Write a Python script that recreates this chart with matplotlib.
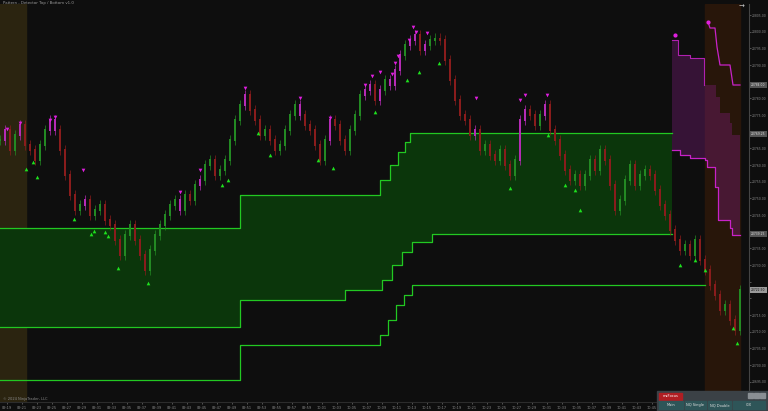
import matplotlib.pyplot as plt
import numpy as np
from matplotlib.ticker import MultipleLocator, FuncFormatter
from matplotlib.patches import Rectangle
from matplotlib.transforms import blended_transform_factory

# Schlusskurse, ein Wert pro Kerze (Preis)
closes = [20767.5, 20770.5, 20764.5, 20769, 20772, 20766, 20764.5, 20761.5, 20766, 20770.5,
          20773.5, 20770.5, 20764.5, 20757, 20751, 20746.5, 20748, 20749.5, 20745, 20746.5,
          20748, 20743.5, 20742, 20737.5, 20733, 20739, 20742, 20737.5, 20733, 20728.5,
          20734.5, 20739, 20742, 20745, 20748, 20749.5, 20746.5, 20751, 20749.5, 20754,
          20755.5, 20760, 20761.5, 20757, 20758.5, 20761.5, 20767.5, 20773.5, 20778, 20781,
          20776.5, 20773.5, 20769, 20770.5, 20767.5, 20764.5, 20766, 20770.5, 20775, 20778,
          20775, 20772, 20770.5, 20766, 20761.5, 20767.5, 20773.5, 20772, 20767.5, 20764.5,
          20770.5, 20775, 20781, 20782.5, 20784, 20779.5, 20782.5, 20785.5, 20784, 20788.5,
          20793, 20796, 20797.5, 20799, 20794.5, 20796, 20797.5, 20798, 20797.5, 20791.5,
          20785.5, 20779.5, 20775, 20773.5, 20769, 20770.5, 20764.5, 20766, 20763, 20761.5,
          20764.5, 20760, 20757, 20761.5, 20773.5, 20776.5, 20775, 20772, 20775, 20778,
          20770.5, 20767.5, 20763, 20758.5, 20755.5, 20757, 20754, 20757, 20761.5, 20758.5,
          20764.5, 20761.5, 20754, 20746.5, 20749.5, 20755.5, 20760, 20754, 20757, 20758.5,
          20757, 20752.5, 20748, 20745, 20740.5, 20737.5, 20734.5, 20736, 20733, 20737.5,
          20731.5, 20728.5, 20724, 20721, 20716.5, 20718, 20713.5, 20710.5, 20722.5]

# Hochpunkte (Top) und Tiefpunkte (Bottom): Kerzenposition und Preis
top_x = [1.4, 4, 10, 11, 16.6, 36, 40, 49, 60, 66, 73, 74.4, 76, 78.4, 79, 79.6, 81.8, 82.6,
         83.2, 85.4, 95.2, 104, 105, 109.4]
top_p = [20770.8, 20772.6, 20773.5, 20774.4, 20758.5, 20752, 20758.5, 20783.1, 20780.1, 20774,
         20784, 20786.7, 20788, 20787.3, 20790.6, 20792.7, 20797.5, 20801.4, 20799.9, 20799.6,
         20780.1, 20779.5, 20781, 20781]
bot_x = [5.2, 6.6, 7.4, 14.8, 18.2, 18.8, 21, 21.6, 23.6, 29.6, 44.4, 45.6, 51.6, 54, 63.6,
         66.6, 75, 81.4, 83.8, 87.8, 102, 109.6, 113, 115, 116, 136, 139, 141, 146.6, 147.4]
bot_p = [20758.8, 20760.9, 20756.4, 20743.8, 20739.3, 20740.2, 20739.9, 20738.7, 20729.1, 20724.6,
         20754, 20755.5, 20769.6, 20763, 20761.5, 20759.1, 20775.9, 20785.5, 20787.9, 20790.6,
         20753.1, 20769, 20754, 20752.5, 20746.5, 20730, 20731.5, 20728.5, 20711.1, 20706.6]

# gruene Zone (Stufenlinien)
zone_top_x = [0, 48, 76, 78, 79.6, 81, 82, 134.4]
zone_top_p = [20741.1, 20751, 20755.5, 20760, 20763.9, 20766.9, 20769.6, 20769.6]
zone_bot_x = [0, 48, 69, 76.4, 78.4, 80.4, 82.4, 86.4, 134.4]
zone_bot_p = [20711.4, 20719.5, 20722.5, 20725.5, 20730, 20733.9, 20736.9, 20739.3, 20739.3]
low_line_x = [0, 48, 76, 77.6, 79.2, 80.8, 82.4, 88, 141]
low_line_p = [20695.5, 20706, 20709, 20713.5, 20718, 20721, 20724, 20724, 20724]

# magenta Zone
mag_top_x = [134.4, 135.6, 138, 140.8, 143.2, 144, 146, 146.4, 148]
mag_top_p = [20797.5, 20793, 20792.1, 20784, 20780.4, 20775.6, 20772.6, 20769, 20769]
mag_bot_x = [134.4, 136, 138, 141, 141.4, 143, 143.6, 146, 146.4, 148]
mag_bot_p = [20764.5, 20763, 20762.1, 20761.5, 20759.4, 20753.4, 20743.5, 20741.1, 20739, 20739]
mag_up_x = [141.6, 142, 143, 143.4, 144, 146, 146.6, 148]
mag_up_p = [20802.9, 20801.1, 20801.1, 20795.4, 20790, 20790, 20784, 20784]

time_labels = ["09:19", "09:21", "09:23", "09:25", "09:27", "09:29", "09:31", "09:33", "09:35",
               "09:37", "09:39", "09:41", "09:43", "09:45", "09:47", "09:49", "09:51", "09:53",
               "09:55", "09:57", "09:59", "10:01", "10:03", "10:05", "10:07", "10:09", "10:11",
               "10:13", "10:15", "10:17", "10:19", "10:21", "10:23", "10:25", "10:27", "10:29",
               "10:31", "10:33", "10:35", "10:37", "10:39", "10:41", "10:43", "10:45"]
marked_prices = [20784.00, 20769.25, 20739.25]
last_price = 20722.50

W, H = 768, 411
BG = '#0e0e0e'


def steps(xs, ys):
    vx, vy = [xs[0]], [ys[0]]
    for i in range(1, len(xs)):
        vx += [xs[i], xs[i]]
        vy += [ys[i - 1], ys[i]]
    return vx, vy


fig = plt.figure(figsize=(7.68, 4.11), dpi=100, facecolor=BG)
ax = fig.add_axes([0, 1 - 402 / H, 749 / W, 398 / H], facecolor=BG)
ax.set_xlim(0, 149.8)
ax.set_ylim(20688.9, 20808.3)

# Sitzungs-Baender
ax.axvspan(0, 5.2, color='#2b2410', zorder=0)
ax.axvspan(141, 148, color='#28160a', zorder=0)

# gruene Zone
tx, ty = steps(zone_top_x, zone_top_p)
bx, by = steps(zone_bot_x, zone_bot_p)
ax.fill(tx + bx[::-1], ty + by[::-1], color='#0b360b', lw=0, zorder=1)
ax.plot(tx, ty, color='#22c822', lw=0.9, zorder=2)
ax.plot(bx, by, color='#22c822', lw=0.9, zorder=2)
lx, ly = steps(low_line_x, low_line_p)
ax.plot(lx, ly, color='#22c822', lw=0.9, zorder=2)

# magenta Zone
mtx, mty = steps(mag_top_x, mag_top_p)
mbx, mby = steps(mag_bot_x, mag_bot_p)
ax.fill(mtx + mbx[::-1], mty + mby[::-1], color='#8c1f8c', alpha=0.32, lw=0, zorder=1)
ax.plot(mtx[:7], mty[:7], color='#b020b0', lw=0.8, zorder=2)
ax.plot(mbx, mby, color='#c822c8', lw=0.9, zorder=2)
ax.plot(mag_up_x, mag_up_p, color='#c822c8', lw=0.9, zorder=2)
ax.plot([mag_up_x[0], 135], [mag_up_p[0], 20799], ls='none', marker='o', ms=2, color='#e020e0', zorder=3)

# Kerzen
c = np.array(closes)
x = np.arange(len(c))
o = np.r_[c[0], c[:-1]]
hot = set(int(round(t)) for t in top_x)
cols = []
for i in range(len(c)):
    if i in hot:
        cols.append('#b52bb5')
    elif c[i] >= o[i]:
        cols.append('#238a23')
    else:
        cols.append('#8a1c1c')
lo = np.minimum(o, c) - 1.6
hi = np.maximum(o, c) + 1.6
ax.vlines(x, lo, hi, colors=cols, lw=0.5, zorder=3)
ax.bar(x, np.abs(c - o) + 0.4, bottom=np.minimum(o, c) - 0.2, width=0.5, color=cols, lw=0, zorder=3)

ax.scatter(top_x, top_p, marker='v', s=7, color='#e01ee0', lw=0, zorder=4)
ax.scatter(bot_x, bot_p, marker='^', s=7, color='#1ee01e', lw=0, zorder=4)

# Achsen
for s in ['left', 'top']:
    ax.spines[s].set_visible(False)
ax.spines['right'].set_color('#444444')
ax.spines['bottom'].set_color('#2c2c2c')
ax.yaxis.tick_right()
ax.yaxis.set_major_locator(MultipleLocator(5))
boxed = marked_prices + [last_price]
ax.yaxis.set_major_formatter(FuncFormatter(
    lambda v, pos: '' if min(abs(v - b) for b in boxed) < 3 else '%.2f' % v))
ax.tick_params(axis='y', labelsize=2.2, colors='#8a8a8a', length=1.2, width=0.4, pad=1)
ax.set_xticks(np.arange(len(time_labels)) * 3 + 1.4)
ax.set_xticklabels(time_labels)
ax.tick_params(axis='x', labelsize=2.5, colors='#8a8a8a', length=1.5, width=0.4, pad=1.2)

tr = blended_transform_factory(ax.transAxes, ax.transData)
for p in marked_prices:
    ax.text(1.003, p, '%.2f' % p, transform=tr, fontsize=2.2, color='#dddddd', va='center',
            bbox=dict(boxstyle='square,pad=0.25', fc='#555555', ec='none'), clip_on=False)
ax.text(1.003, last_price, '%.2f' % last_price, transform=tr, fontsize=2.2, color='#111111',
        va='center', bbox=dict(boxstyle='square,pad=0.25', fc='#9a9a9a', ec='none'), clip_on=False)

fig.text(3 / W, 1 - 3 / H, 'Pattern - Detector Top / Bottom v1.0', fontsize=2.8, color='#9a9a9a', va='center')
fig.text(3 / W, 1 - 399 / H, '\u00a9 2024 NinjaTrader, LLC', fontsize=2.6, color='#8a8a8a', va='center')
fig.text(742 / W, 1 - 7 / H, '\u2192', fontsize=5, color='#cccccc', ha='center', va='center')


def rect(x0, y0, x1, y1, color):
    fig.patches.append(Rectangle((x0 / W, 1 - y1 / H), (x1 - x0) / W, (y1 - y0) / H,
                                 transform=fig.transFigure, color=color, zorder=5))


# Bedienfeld unten rechts
rect(657, 391, 768, 411, '#3b4146')
rect(659, 392.5, 682, 399.5, '#b01e23')
fig.text(670.5 / W, 1 - 396 / H, 'mzFocus', fontsize=2.6, color='white', ha='center', va='center', zorder=6)
for x0 in [748, 754, 760]:
    rect(x0, 393, x0 + 5, 398, '#8a8f94')
for lab, x0, x1 in [('Main', 659, 683), ('NQ Single', 685, 706), ('NQ Double', 708, 731), ('CIX', 733, 765)]:
    rect(x0, 401, x1, 409, '#2e5558')
    fig.text((x0 + x1) / 2 / W, 1 - 405 / H, lab, fontsize=2.6, color='#e0e0e0', ha='center', va='center', zorder=6)

fig.savefig('out.png', dpi=100, facecolor=fig.get_facecolor())
